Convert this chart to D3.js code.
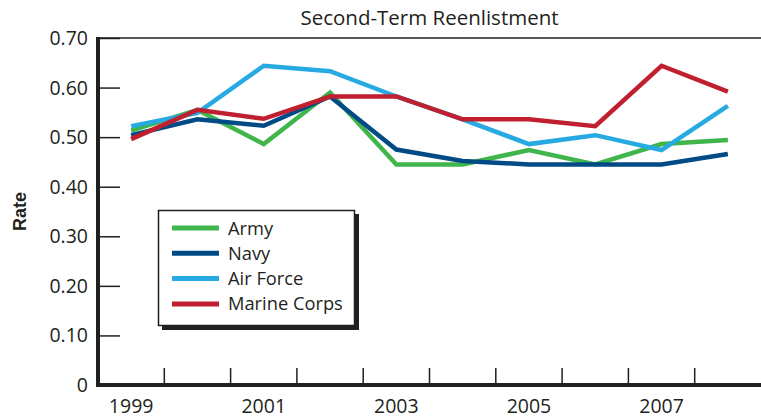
<!DOCTYPE html>
<html>
<head>
<meta charset="utf-8">
<script src="https://cdn.jsdelivr.net/npm/d3@7"></script>
<style>
  body { margin: 0; background: #fff; }
  svg { display: block; font-family: "Open Sans", "Noto Sans", sans-serif; }
</style>
</head>
<body>
<svg id="chart" width="761" height="418"></svg>
<script>
const years = [1999, 2000, 2001, 2002, 2003, 2004, 2005, 2006, 2007, 2008];
const tickYears = [1999, 2001, 2003, 2005, 2007];
const yTicks = [0, 0.1, 0.2, 0.3, 0.4, 0.5, 0.6, 0.7];

const army      = [0.513, 0.555, 0.486, 0.590, 0.445, 0.445, 0.474, 0.445, 0.486, 0.494];
const navy      = [0.504, 0.536, 0.523, 0.582, 0.475, 0.452, 0.445, 0.445, 0.445, 0.466];
const airForce  = [0.522, 0.549, 0.644, 0.633, 0.582, 0.536, 0.486, 0.504, 0.474, 0.563];
const marines   = [0.496, 0.555, 0.537, 0.582, 0.582, 0.536, 0.536, 0.522, 0.644, 0.592];

const seriesNames = ["Army", "Navy", "Air Force", "Marine Corps"];
const seriesValues = [army, navy, airForce, marines];
const colors = ["#3fb54b", "#004b85", "#27aae1", "#c01f2f"];

const svg = d3.select("#chart");
const plotL = 98, plotR = 761, plotT = 38, plotB = 385;

const x = d3.scaleBand().domain(years).range([plotL, plotR]);
const y = d3.scaleLinear().domain([0, 0.7]).range([plotB, plotT]);

// title
svg.append("text")
  .attr("x", (plotL + plotR) / 2).attr("y", 25)
  .attr("text-anchor", "middle")
  .attr("font-size", 20.5).attr("fill", "#231f20")
  .text("Second-Term Reenlistment");

// top border line
svg.append("line")
  .attr("x1", plotL).attr("x2", plotR).attr("y1", plotT).attr("y2", plotT)
  .attr("stroke", "#231f20").attr("stroke-width", 1.5);

// y axis
const yAxis = d3.axisRight(y).tickValues(yTicks).tickSize(22).tickFormat("");
const gy = svg.append("g").attr("transform", `translate(${plotL},0)`).call(yAxis);
gy.select(".domain").remove();
gy.selectAll(".tick line").attr("stroke", "#231f20").attr("stroke-width", 1.5);

svg.selectAll(".ylab").data(yTicks).join("text")
  .attr("class", "ylab")
  .attr("x", 88).attr("y", d => y(d) + 7)
  .attr("text-anchor", "end")
  .attr("font-size", 19.5).attr("fill", "#231f20")
  .text(d => d === 0 ? "0" : d3.format(".2f")(d));

// x ticks at band boundaries
const boundaries = years.slice(1).map(d => x(d));
svg.selectAll(".xtick").data(boundaries).join("line")
  .attr("class", "xtick")
  .attr("x1", d => d).attr("x2", d => d)
  .attr("y1", plotB).attr("y2", plotB - 17)
  .attr("stroke", "#231f20").attr("stroke-width", 1.5);

svg.selectAll(".xlab").data(tickYears).join("text")
  .attr("class", "xlab")
  .attr("x", d => x(d) + x.bandwidth() / 2).attr("y", 413)
  .attr("text-anchor", "middle")
  .attr("font-size", 19.5).attr("fill", "#231f20")
  .text(d => d);

// axis lines
svg.append("line")
  .attr("x1", plotL).attr("x2", plotL).attr("y1", plotT - 1).attr("y2", plotB + 2)
  .attr("stroke", "#231f20").attr("stroke-width", 4);
svg.append("line")
  .attr("x1", plotL - 2).attr("x2", plotR).attr("y1", plotB).attr("y2", plotB)
  .attr("stroke", "#231f20").attr("stroke-width", 4);

// y axis title
svg.append("text")
  .attr("transform", `translate(26,${(plotT + plotB) / 2}) rotate(-90)`)
  .attr("text-anchor", "middle")
  .attr("font-family", "'Liberation Sans', Arial, sans-serif")
  .attr("font-weight", "bold").attr("font-size", 18).attr("fill", "#231f20")
  .text("Rate");

// lines
const line = d3.line()
  .x((d, i) => x(years[i]) + x.bandwidth() / 2)
  .y(d => y(d));

svg.selectAll(".series").data(seriesValues).join("path")
  .attr("class", "series")
  .attr("d", d => line(d))
  .attr("fill", "none")
  .attr("stroke", (d, i) => colors[i])
  .attr("stroke-width", 4.5)
  .attr("stroke-linejoin", "miter");

// legend
const lg = svg.append("g");
lg.append("rect")
  .attr("x", 162).attr("y", 214).attr("width", 197).attr("height", 116)
  .attr("fill", "#231f20");
lg.append("rect")
  .attr("x", 158.5).attr("y", 210.5).attr("width", 196).attr("height", 115)
  .attr("fill", "#fff").attr("stroke", "#231f20").attr("stroke-width", 1.5);

seriesNames.forEach((name, i) => {
  const cy = 228 + i * 25.3;
  lg.append("line")
    .attr("x1", 172).attr("x2", 219).attr("y1", cy).attr("y2", cy)
    .attr("stroke", colors[i]).attr("stroke-width", 5);
  lg.append("text")
    .attr("x", 228).attr("y", cy + 6.5)
    .attr("font-size", 18.3).attr("fill", "#231f20")
    .text(name);
});
</script>
</body>
</html>
